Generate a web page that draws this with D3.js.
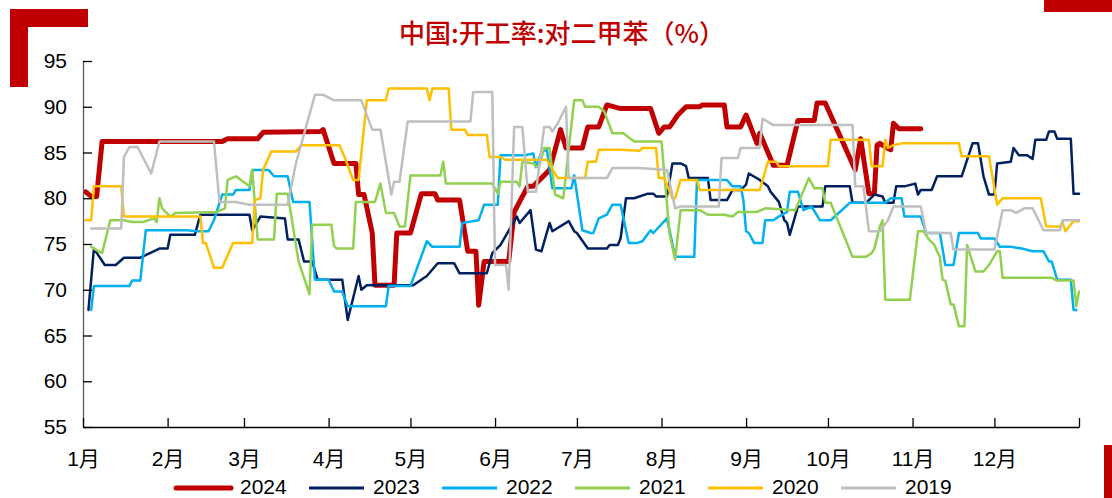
<!DOCTYPE html>
<html lang="zh">
<head>
<meta charset="UTF-8">
<title>中国:开工率:对二甲苯（%）</title>
<script src="https://d3js.org/d3.v7.min.js"></script>
<style>
  body { margin: 0; background: #fff; }
  svg text { font-family: "Liberation Sans", "Noto Sans CJK SC", sans-serif; fill: #000; }
  .title { fill: #c00000; font-family: "Noto Sans CJK SC", sans-serif; font-weight: 500; }
</style>
</head>
<body>
<div id="chart"></div>
<script>
// points are [day of year (0 = 1月1日), 开工率 %]
var years = ["2024", "2023", "2022", "2021", "2020", "2019"];
var colors = ["#c00000", "#002060", "#00b0f0", "#92d050", "#ffc000", "#bfbfbf"];
var monthLabels = ["1月","2月","3月","4月","5月","6月","7月","8月","9月","10月","11月","12月"];
var yTicks = [55, 60, 65, 70, 75, 80, 85, 90, 95];

var s2024 = [[1,80.7],[3,80.2],[5,80.2],[7,86.2],[51,86.2],[53,86.5],[64,86.5],[66,87.2],[87,87.3],[88,87.5],
  [92,83.8],[100,83.8],[101,80.4],[103,80.4],[106,76.2],[107,70.5],[114,70.5],[115,76.2],[120,76.2],[124,80.5],
  [129,80.5],[130,79.8],[138,79.8],[141,74.2],[144,74.2],[145,68.3],[147,73.1],[156,73.1],[158,78.5],[163,81.3],
  [165,81.3],[171,83.1],[175,87.5],[177,85.5],[183,85.5],[185,87.8],[189,87.8],[192,90.2],[197,89.8],[208,89.8],
  [211,87.1],[213,87.8],[215,87.8],[218,89.1],[221,90],[226,90],[227,90.2],[235,90.2],[236,87.8],[241,87.8],
  [243,89.1],[247,86],[248,87.1],[253,83.6],[258,83.6],[262,88.5],[268,88.5],[269,90.4],[272,90.4],[283,83.1],
  [285,86.5],[288,80.5],[290,80.5],[291,85.8],[292,86],[294,85.6],[296,85.3],[297,88.2],[299,87.6],[307,87.6]];

var s2023 = [[2,67.8],[4,74.5],[8,72.7],[12,72.7],[15,73.5],[21,73.5],[28,74.5],[31,74.5],[32,76],[41,76],
  [43,78.2],[61,78.2],[62,76.5],[65,78],[74,77.8],[75,75.5],[79,75.5],[81,73.1],[84,73.1],[86,71.1],
  [95,71.1],[97,66.7],[101,71.5],[102,70],[104,70.5],[121,70.5],[126,71.5],[130,72.9],[136,72.9],[138,71.8],
  [148,71.8],[150,74],[153,74.9],[159,78],[160,77.3],[164,78.7],[166,74.4],[168,74.2],[171,77.3],[172,76.4],
  [178,77.5],[180,76.4],[181,76.2],[185,74.5],[192,74.5],[193,74.9],[196,74.9],[197,75.6],[199,80],[202,80],
  [207,80.5],[209,80.5],[210,80.2],[214,80.2],[216,83.8],[219,83.8],[221,83.5],[222,82.2],[229,82.2],[230,79.8],
  [236,79.8],[238,80.9],[241,80.9],[243,81.5],[244,82.7],[248,82],[251,81.3],[252,80.7],[255,79.6],[257,77.6],
  [258,77.3],[259,76],[262,79.1],[271,79.1],[272,81.3],[281,81.3],[282,79.5],[287,79.5],[290,80.4],[293,80.2],
  [294,79.5],[297,79.5],[298,81.3],[301,81.3],[305,81.6],[306,80.4],[307,80.9],[311,80.9],[313,82.4],[322,82.4],
  [326,86],[328,86],[330,82.4],[332,80.4],[334,80.4],[335,83.8],[340,84],[341,85.5],[343,84.7],[346,84.7],
  [348,84.3],[349,86.4],[353,86.4],[354,87.3],[356,87.3],[357,86.5],[362,86.5],[363,80.5],[365,80.5]];

var s2022 = [[3,67.8],[4,70.4],[17,70.4],[18,71],[21,71],[23,76.5],[38,76.5],[42,76.4],[46,76.4],[48,77.6],
  [51,80.4],[55,80.4],[56,80.9],[61,80.9],[62,83.1],[68,83.1],[70,82.4],[75,82.4],[77,79.6],[83,79.6],
  [85,71.1],[90,71.1],[92,69.8],[95,69.8],[97,68.2],[111,68.2],[112,70.4],[120,70.4],[126,75.3],[128,74.7],
  [138,74.7],[139,77.3],[145,77.6],[147,79.3],[152,79.3],[153,84.7],[162,84.7],[165,84.9],[166,83.4],[168,85],
  [170,85.3],[172,81.1],[179,81.1],[180,82.5],[183,76.5],[186,76.2],[187,76.2],[189,77.8],[192,78.2],[194,79.3],
  [197,79.3],[200,75.1],[203,75.1],[205,75.3],[208,76.5],[209,76.2],[214,77.8],[217,73.6],[224,73.6],[225,82],
  [236,82],[238,81.3],[241,81.3],[242,79.8],[243,76.4],[244,76.2],[246,75.1],[249,75.1],[250,77.6],[253,77.6],
  [255,78],[258,78.5],[259,80.7],[262,80.7],[264,78.7],[267,79.1],[270,77.6],[274,77.6],[281,79.5],[294,79.5],
  [296,80],[300,80],[301,78],[307,78],[309,76.2],[314,76.2],[316,72.7],[319,72.7],[321,76.2],[328,76.2],
  [329,75.6],[334,75.6],[336,74.7],[340,74.7],[344,74.5],[348,74.2],[352,74.2],[354,73.1],[355,73.1],[357,71.1],
  [362,71.1],[363,67.8],[364,67.8]];

var s2021 = [[3,74.7],[4,74.5],[7,74],[10,77.6],[15,77.6],[18,77.4],[22,77.4],[26,77.8],[27,77.4],[28,80],
  [29,78.9],[32,78],[34,78.4],[49,78.5],[52,78.9],[53,82],[56,82.4],[61,81.3],[62,83.1],[64,75.5],
  [70,75.5],[71,80.5],[75,80.5],[79,73.1],[83,69.5],[84,77.1],[91,77.1],[92,74.8],[93,74.5],[99,74.5],
  [100,79.6],[107,79.6],[109,81.6],[111,78.4],[114,78.4],[116,76.9],[118,76.9],[120,82.5],[131,82.5],[132,84],
  [133,81.6],[150,81.6],[152,80.5],[153,81.8],[159,81.8],[160,81.3],[161,84],[165,83.8],[167,83.3],[169,85.5],
  [171,85.5],[173,80.4],[176,80],[180,90.7],[183,90.7],[184,90],[189,90],[191,89.5],[194,87.1],[198,87.1],
  [202,86.2],[212,86.2],[215,76],[217,73.3],[219,78.7],[226,78.7],[229,78.2],[235,78.2],[238,78],[240,78.5],
  [247,78.5],[250,78.9],[261,78.7],[266,82.2],[268,81.1],[271,81.1],[272,79.5],[274,79.5],[282,73.6],[287,73.6],
  [289,74],[290,74.5],[292,76.9],[293,77.6],[294,68.9],[303,68.9],[306,76.4],[308,76.4],[310,75.5],[312,74.9],
  [313,74.2],[314,73.6],[315,71.1],[316,71],[318,68.4],[319,68.4],[321,66],[323,66],[324,74.9],[327,72],
  [330,72],[332,72.7],[335,74.2],[336,74.2],[337,71.3],[355,71.3],[357,71],[363,71],[364,68.2],[365,69.8]];

var s2020 = [[1,77.6],[3,77.6],[4,81.3],[14,81.3],[15,78],[43,78],[44,75.1],[45,75.1],[48,72.4],[51,72.4],
  [55,75.1],[62,75.1],[63,79.8],[65,80],[66,83.1],[69,85.1],[78,85.1],[80,85.8],[94,85.8],[96,84.4],
  [99,82],[101,82],[104,90.7],[111,90.7],[112,92],[126,92],[127,90.7],[128,92],[134,92],[135,87.5],
  [140,87.5],[141,86.9],[148,86.9],[149,84.5],[153,84.5],[155,84.2],[170,84.2],[174,82.2],[184,82.2],[185,84],
  [188,84],[189,85.3],[197,85.3],[204,85.2],[205,85.5],[210,85.5],[211,82.2],[213,82.2],[216,80],[217,80],
  [219,82],[225,82],[226,80.9],[248,80.9],[251,84],[254,84],[255,83.5],[273,83.5],[274,86.4],[288,86.4],
  [289,83.5],[293,83.5],[294,86.4],[295,85.5],[297,85.8],[300,86],[321,86],[322,84.6],[332,84.6],[335,79.3],
  [337,80],[351,80],[353,76.9],[358,76.9],[359,77.4],[360,76.4],[363,77.5],[365,77.5]];

var s2019 = [[3,76.7],[14,76.7],[15,84.5],[17,85.6],[20,85.6],[25,82.7],[28,86.2],[48,86.2],[50,79.6],[56,79.6],
  [61,79.3],[75,79.3],[78,83.8],[85,91.3],[88,91.3],[92,90.7],[102,90.7],[106,87.5],[109,87.5],[113,80.4],
  [114,81.8],[116,81.8],[119,88.4],[142,88.4],[143,91.6],[150,91.6],[151,72.7],[155,72.7],[156,70],[158,87.8],
  [161,87.8],[163,80.7],[166,80.7],[169,87.8],[171,87.8],[172,87.3],[174,88.2],[177,90],[178,82.2],[192,82.2],
  [194,83.3],[204,83.3],[214,83.1],[217,78.9],[219,79.1],[233,79.1],[234,84.4],[240,84.4],[241,85.5],[248,85.5],
  [249,88.7],[253,88],[282,88],[283,81.3],[286,81.3],[288,76.4],[292,76.4],[295,77.6],[297,79.1],[307,79.1],
  [309,76.2],[318,76.2],[319,74.4],[334,74.4],[337,78.7],[340,78.7],[342,78.4],[345,78.9],[348,78.9],[352,76.5],
  [358,76.5],[359,77.6],[365,77.6]];

var seriesData = [s2024, s2023, s2022, s2021, s2020, s2019];

var W = 1112, H = 498;
var margin = {top: 61, right: 33, bottom: 71, left: 83},
    width = W - margin.left - margin.right,
    height = H - margin.top - margin.bottom;

var svg = d3.select("#chart").append("svg")
    .attr("width", W)
    .attr("height", H);

// red corner marks
svg.append("rect").attr("x", 10).attr("y", 9).attr("width", 78).attr("height", 18).attr("fill", "#c00000");
svg.append("rect").attr("x", 10).attr("y", 9).attr("width", 18).attr("height", 78).attr("fill", "#c00000");
svg.append("rect").attr("x", 1044).attr("y", 0).attr("width", 68).attr("height", 12).attr("fill", "#c00000");
svg.append("rect").attr("x", 1104).attr("y", 445).attr("width", 8).attr("height", 53).attr("fill", "#c00000");

svg.append("text")
    .attr("class", "title")
    .attr("x", 562)
    .attr("y", 43)
    .attr("text-anchor", "middle")
    .style("font-size", "26px")
    .text("中国:开工率:对二甲苯（%）");

var g = svg.append("g")
    .attr("transform", "translate(" + margin.left + "," + margin.top + ")");

var base = new Date(2001, 0, 1);
function day(d) { return new Date(2001, 0, 1 + d); }

var x = d3.scaleTime()
    .domain([base, new Date(2002, 0, 1)])
    .range([0, width]);

var y = d3.scaleLinear()
    .domain([55, 95])
    .range([height, 0]);

// lines, 2024 first so the older years sit on top as in the source
var line = d3.line()
    .x(function(d) { return x(day(d[0])); })
    .y(function(d) { return y(d[1]); });

g.selectAll(".series")
  .data(seriesData)
  .enter().append("path")
    .attr("class", "series")
    .attr("d", line)
    .attr("fill", "none")
    .attr("stroke", function(d, i) { return colors[i]; })
    .attr("stroke-width", function(d, i) { return i === 0 ? 5 : 2.5; })
    .attr("stroke-linejoin", "round")
    .attr("stroke-linecap", "round");

// y axis
var yAxis = g.append("g")
    .call(d3.axisLeft(y).tickValues(yTicks).tickSizeInner(-9).tickSizeOuter(0).tickPadding(16));
yAxis.select(".domain").attr("stroke", "#595959").attr("stroke-width", 1.3);
yAxis.selectAll(".tick line").attr("stroke", "#000").attr("stroke-width", 1.3);
yAxis.selectAll("text").style("font-size", "21px");

// x axis
var monthTicks = d3.timeMonth.range(base, new Date(2002, 0, 2));
var xAxis = g.append("g")
    .attr("transform", "translate(0," + height + ")")
    .call(d3.axisBottom(x).tickValues(monthTicks).tickSizeInner(-9).tickSizeOuter(0).tickPadding(24)
      .tickFormat(function(d, i) { return monthLabels[i] || ""; }));
xAxis.select(".domain").attr("stroke", "#000").attr("stroke-width", 1.5);
xAxis.selectAll(".tick line").attr("stroke", "#000").attr("stroke-width", 1.3);
xAxis.selectAll("text").style("font-size", "21px");

// legend
var legend = svg.append("g").attr("transform", "translate(176,488)");
var item = legend.selectAll(".item")
  .data(years)
  .enter().append("g")
    .attr("class", "item")
    .attr("transform", function(d, i) { return "translate(" + (i * 133) + ",0)"; });
item.append("line")
    .attr("x1", 0).attr("x2", 55)
    .attr("stroke", function(d, i) { return colors[i]; })
    .attr("stroke-width", function(d, i) { return i === 0 ? 5 : 3; })
    .attr("stroke-linecap", function(d, i) { return i === 0 ? "round" : "butt"; });
item.append("text")
    .attr("x", 64)
    .attr("y", 6)
    .style("font-size", "21px")
    .text(function(d) { return d; });
</script>
</body>
</html>
